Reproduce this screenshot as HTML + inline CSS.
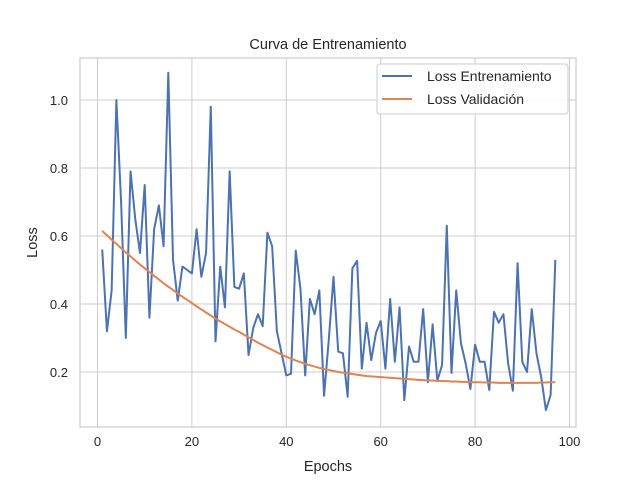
<!DOCTYPE html>
<html><head><meta charset="utf-8"><style>
body{margin:0;background:#fff;}
svg{font-family:"Liberation Sans","DejaVu Sans",sans-serif;}
</style></head><body>
<svg id="chart" width="640" height="480"></svg>
<script>
const epochs = Array.from({length:97},(_,i)=>i+1);
const trainLoss = [0.56,0.32,0.44,1.00,0.70,0.30,0.79,0.65,0.55,0.75,
0.36,0.62,0.69,0.57,1.08,0.53,0.41,0.51,0.50,0.49,
0.62,0.48,0.55,0.98,0.29,0.51,0.39,0.79,0.45,0.445,
0.49,0.25,0.33,0.37,0.335,0.61,0.57,0.32,0.255,0.19,
0.195,0.557,0.445,0.19,0.415,0.37,0.44,0.13,0.295,0.48,
0.26,0.255,0.127,0.505,0.527,0.21,0.345,0.235,0.315,0.35,
0.21,0.415,0.23,0.39,0.117,0.275,0.23,0.23,0.385,0.17,
0.34,0.175,0.22,0.63,0.197,0.44,0.285,0.225,0.15,0.28,
0.23,0.23,0.147,0.377,0.345,0.37,0.225,0.145,0.52,0.23,
0.2,0.385,0.255,0.185,0.088,0.132,0.53];
const valLoss = [0.615,0.602,0.589,0.577,0.564,0.552,0.540,0.528,0.516,0.505,
0.494,0.483,0.472,0.461,0.451,0.441,0.431,0.421,0.412,0.403,
0.393,0.384,0.375,0.366,0.357,0.349,0.341,0.333,0.325,0.318,
0.310,0.302,0.294,0.286,0.279,0.272,0.265,0.258,0.251,0.245,
0.239,0.234,0.229,0.224,0.220,0.216,0.212,0.209,0.206,0.203,
0.200,0.198,0.196,0.194,0.192,0.190,0.188,0.187,0.186,0.185,
0.184,0.183,0.182,0.181,0.180,0.179,0.178,0.177,0.176,0.175,
0.175,0.174,0.173,0.173,0.172,0.172,0.171,0.171,0.170,0.170,
0.170,0.169,0.169,0.169,0.168,0.168,0.168,0.168,0.168,0.168,
0.168,0.168,0.168,0.169,0.169,0.170,0.170];
const xTicks = [0,20,40,60,80,100];
const yTicks = [0.2,0.4,0.6,0.8,1.0];
const yTickLabels = ["0.2","0.4","0.6","0.8","1.0"];

const NS="http://www.w3.org/2000/svg";
const svg=document.getElementById('chart');
const L=80,R=576,T=58,B=427;
const xs=v=>97.5+4.72*v;
const ys=v=>372-(v-0.2)*340;
function mk(tag,attrs,parent){const e=document.createElementNS(NS,tag);for(const k in attrs)e.setAttribute(k,attrs[k]);(parent||svg).appendChild(e);return e;}

const grid=mk('g',{});


xTicks.forEach(t=>{const x=xs(t);if(x<L||x>R)return;mk('line',{x1:x,x2:x,y1:T,y2:B,stroke:'#cccccc','stroke-width':1},grid);
 const tx=mk('text',{x:x,y:B+19,'text-anchor':'middle','font-size':13,fill:'#262626'});tx.textContent=t;
 
 });
yTicks.forEach((t,i)=>{const y=ys(t);mk('line',{x1:L,x2:R,y1:y,y2:y,stroke:'#cccccc','stroke-width':1},grid);
 const tx=mk('text',{x:L-12,y:y+5,'text-anchor':'end','font-size':13,fill:'#262626'});tx.textContent=yTickLabels[i];
 
 });
const frame=mk('rect',{x:L,y:T,width:R-L,height:B-T,fill:'none',stroke:'#cccccc','stroke-width':1.2});



function path(vals){return vals.map((v,i)=>(i?'L':'M')+xs(epochs[i]).toFixed(2)+','+ys(v).toFixed(2)).join('');}
const tl=mk('path',{d:path(trainLoss),fill:'none',stroke:'#4c72b0','stroke-width':2,'stroke-linejoin':'round'});


const vl=mk('path',{d:path(valLoss),fill:'none',stroke:'#dd8452','stroke-width':2,'stroke-linejoin':'round'});



const title=mk('text',{x:(L+R)/2,y:49,'text-anchor':'middle','font-size':14.5,fill:'#262626'});title.textContent='Curva de Entrenamiento';


const xl=mk('text',{x:(L+R)/2,y:471,'text-anchor':'middle','font-size':14.5,fill:'#262626'});xl.textContent='Epochs';


const yl=mk('text',{x:37,y:(T+B)/2,'text-anchor':'middle','font-size':14.5,fill:'#262626',transform:'rotate(-90 37 '+((T+B)/2)+')'});yl.textContent='Loss';



const lg=mk('g',{});


mk('rect',{x:377,y:64,width:191,height:50,rx:3,fill:'#fff','fill-opacity':0.85,stroke:'#cccccc'},lg);
const le1=mk('g',{},lg);


mk('line',{x1:382,x2:412,y1:76,y2:76,stroke:'#4c72b0','stroke-width':2},le1);
const t1=mk('text',{x:427,y:81,'font-size':14,fill:'#262626'},le1);t1.textContent='Loss Entrenamiento';
const le2=mk('g',{},lg);


mk('line',{x1:382,x2:412,y1:99,y2:99,stroke:'#dd8452','stroke-width':2},le2);
const t2=mk('text',{x:427,y:104,'font-size':14,fill:'#262626'},le2);t2.textContent='Loss Validación';
</script>
</body></html>
